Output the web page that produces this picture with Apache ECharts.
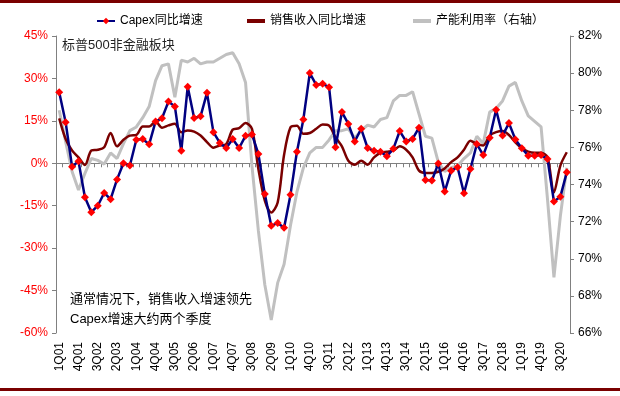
<!DOCTYPE html>
<html>
<head>
<meta charset="utf-8">
<script src="https://cdn.jsdelivr.net/npm/echarts@6.0.0/dist/echarts.min.js"></script>
<style>
  html, body { margin: 0; padding: 0; background: #fff; }
  #chart { width: 620px; height: 396px; }
</style>
</head>
<body>
<div id="chart"></div>
<script>
// quarters 1Q01 .. 4Q20
const quarters = [];
for (let y = 1; y <= 20; y++) {
  for (let q = 1; q <= 4; q++) {
    quarters.push(q + 'Q' + String(y).padStart(2, '0'));
  }
}

// Capex同比增速 (%)
const capex = [
  25.1, 14.5, -1.2, 0.7, -12.0, -17.3, -15.0, -10.5, -12.7, -5.7,
  0.0, -0.8, 8.3, 8.6, 6.7, 14.8, 15.9, 21.8, 20.1, 4.4,
  27.1, 16.0, 16.6, 24.9, 11.0, 7.2, 5.4, 8.6, 5.4, 9.7,
  10.2, 3.3, -10.9, -22.1, -21.1, -22.8, -11.1, 4.1, 15.5, 31.9,
  27.7, 28.1, 26.9, 5.7, 18.1, 13.9, 7.7, 12.2, 5.4, 4.4,
  4.1, 2.5, 5.1, 11.4, 7.7, 8.6, 12.6, -5.9, -6.1, -0.1,
  -10.0, -2.6, -1.4, -10.6, -2.0, 6.8, 2.9, 9.0, 18.9, 9.8,
  14.2, 8.4, 5.3, 2.7, 2.7, 2.9, 1.5, -13.5, -11.8, -3.2
];

// 销售收入同比增速 (%)
const sales = [
  15.9, 8.6, 4.5, 2.1, -0.6, 4.5, 4.8, 5.7, 10.7, 6.0,
  8.3, 9.8, 10.0, 13.0, 13.0, 14.8, 12.6, 13.4, 14.0, 11.0,
  11.6, 11.2, 9.8, 7.5, 5.5, 6.3, 6.8, 11.9, 12.4, 14.2,
  12.2, -2.0, -13.2, -17.4, -13.9, 3.0, 12.7, 13.3, 10.4, 10.7,
  12.2, 13.7, 13.3, 9.2, 6.0, 0.9, -0.5, 0.9, -0.5, 2.1,
  3.7, 4.1, 4.5, 6.0, 4.8, 2.1, -2.6, -3.4, -3.4, -3.0,
  -1.8, 0.4, 2.1, 4.8, 8.0, 6.8, 6.3, 9.8, 11.0, 11.4,
  10.0, 7.4, 5.3, 4.1, 3.7, 3.7, 2.1, -10.3, -0.8, 3.9
];

// 产能利用率 (%, right axis)
const util = [
  78.0, 76.3, 74.7, 73.7, 74.6, 75.4, 75.3, 75.1, 75.7, 75.4,
  76.2, 76.9, 77.1, 77.6, 78.2, 79.6, 80.4, 80.5, 78.7, 80.7,
  80.6, 80.8, 80.5, 80.6, 80.6, 80.8, 81.0, 81.1, 80.5, 79.5,
  75.0, 71.5, 68.6, 66.7, 68.7, 69.7, 71.8, 73.6, 74.9, 75.7,
  76.0, 76.0, 76.4, 76.9, 76.9, 77.0, 76.5, 76.9, 77.2, 77.1,
  77.5, 77.6, 78.5, 78.8, 78.8, 79.0, 77.8, 76.6, 76.5, 75.2,
  74.7, 74.9, 75.0, 75.4, 75.7, 76.6, 76.2, 77.9, 78.1, 78.5,
  79.3, 79.5, 78.5, 77.7, 77.4, 77.1, 73.2, 69.0, 72.3, 74.9
];

const FONT = '"Liberation Sans", Arial, "Noto Sans CJK SC", sans-serif';
const DARK_RED = '#7a0000';

const legendBase = {
  top: 10,
  itemWidth: 18,
  itemHeight: 8,
  textStyle: { fontFamily: FONT, fontSize: 12, color: '#000' }
};

const option = {
  animation: false,
  textStyle: { fontFamily: FONT },
  legend: [
    Object.assign({}, legendBase, { left: 91, data: ['Capex同比增速'] }),
    Object.assign({}, legendBase, { left: 242, itemHeight: 4, data: [{ name: '销售收入同比增速', icon: 'rect' }] }),
    Object.assign({}, legendBase, { left: 408, itemHeight: 4, data: [{ name: '产能利用率（右轴）', icon: 'rect' }] })
  ],
  grid: { left: 56, right: 50, top: 36, bottom: 63 },
  xAxis: [
    {
      type: 'category',
      data: quarters,
      position: 'bottom',
      axisLine: { show: false },
      axisTick: { show: false },
      axisLabel: {
        rotate: 90,
        interval: 2,
        margin: 9,
        fontSize: 12,
        color: '#000',
        fontFamily: FONT
      }
    },
    {
      type: 'category',
      data: quarters,
      position: 'bottom',
      axisLine: { onZero: true, onZeroAxisIndex: 0, lineStyle: { color: '#808080', width: 1 } },
      axisTick: { show: true, interval: 0, length: 4, lineStyle: { color: '#808080' } },
      axisLabel: { show: false },
      splitLine: { show: false }
    }
  ],
  yAxis: [
    {
      type: 'value',
      min: -60,
      max: 45,
      interval: 15,
      axisLine: { show: true, lineStyle: { color: '#808080' } },
      axisTick: { show: true, length: 4, lineStyle: { color: '#808080' } },
      axisLabel: { formatter: '{value}%', color: '#ff0000', fontSize: 12, margin: 8, fontFamily: FONT },
      splitLine: { show: false }
    },
    {
      type: 'value',
      min: 66,
      max: 82,
      interval: 2,
      position: 'right',
      axisLine: { show: true, lineStyle: { color: '#808080' } },
      axisTick: { show: true, length: 4, lineStyle: { color: '#808080' } },
      axisLabel: { formatter: '{value}%', color: '#000', fontSize: 12, margin: 8, fontFamily: FONT },
      splitLine: { show: false }
    }
  ],
  series: [
    {
      name: 'Capex同比增速',
      type: 'line',
      data: capex,
      z: 4,
      symbol: 'diamond',
      symbolSize: 8,
      showAllSymbol: true,
      itemStyle: { color: '#ff0000' },
      lineStyle: { color: '#000080', width: 2.5 }
    },
    {
      name: '销售收入同比增速',
      type: 'line',
      data: sales,
      z: 3,
      smooth: 0.3,
      symbol: 'none',
      itemStyle: { color: DARK_RED },
      lineStyle: { color: DARK_RED, width: 2.5 }
    },
    {
      name: '产能利用率（右轴）',
      type: 'line',
      data: util,
      yAxisIndex: 1,
      z: 2,
      symbol: 'none',
      itemStyle: { color: '#c0c0c0' },
      lineStyle: { color: '#c0c0c0', width: 3 }
    }
  ],
  graphic: [
    { type: 'rect', left: 0, top: 0, shape: { width: 620, height: 3 }, style: { fill: DARK_RED } },
    { type: 'rect', left: 0, top: 388, shape: { width: 620, height: 3 }, style: { fill: DARK_RED } },
    {
      type: 'text', left: 62, top: 39,
      style: { text: '标普500非金融板块', fontSize: 13, fill: '#222', fontFamily: FONT }
    },
    {
      type: 'text', left: 70, top: 293,
      style: { text: '通常情况下，销售收入增速领先', fontSize: 13, fill: '#000', fontFamily: FONT }
    },
    {
      type: 'text', left: 70, top: 313,
      style: { text: 'Capex增速大约两个季度', fontSize: 13, fill: '#000', fontFamily: FONT }
    }
  ]
};

const chart = echarts.init(document.getElementById('chart'));
chart.setOption(option);
</script>
</body>
</html>
